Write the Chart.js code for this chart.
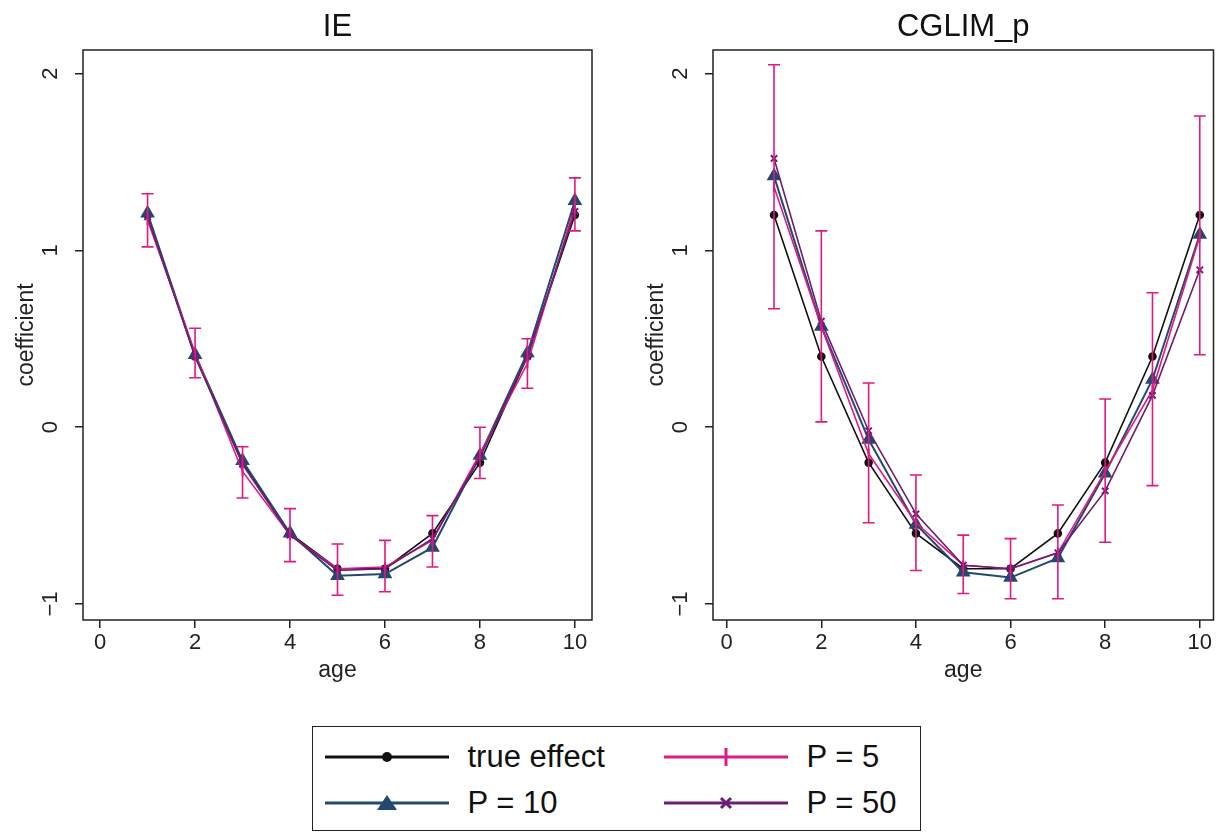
<!DOCTYPE html>
<html>
<head>
<meta charset="utf-8">
<script src="https://cdn.jsdelivr.net/npm/chart.js@4.4.1/dist/chart.umd.min.js"></script>
<style>
  body { margin: 0; background: #fff; width: 1222px; height: 832px; position: relative; overflow: hidden;
         font-family: "Liberation Sans", Arial, sans-serif; color: #111; }
  canvas { position: absolute; top: 0; }
  #c1 { left: 0; }
  #c2 { left: 630px; }
  #legend { position: absolute; left: 312px; top: 726px; width: 607px; height: 103px; border: 1.5px solid #222; }
  .sw { position: absolute; }
  .lab { position: absolute; font-size: 31px; line-height: 36px; height: 36px; white-space: nowrap; }
</style>
</head>
<body>
<canvas id="c1" width="611" height="700"></canvas>
<canvas id="c2" width="592" height="700"></canvas>

<div id="legend"></div>

<script>
// ages on the x axis
const ages = [1, 2, 3, 4, 5, 6, 7, 8, 9, 10];
const xTicks = [0, 2, 4, 6, 8, 10];
const yTicks = [-1, 0, 1, 2];
const yTickLabels = ['\u22121', '0', '1', '2'];

const trueEffect = [1.2, 0.4, -0.2, -0.6, -0.8, -0.8, -0.6, -0.2, 0.4, 1.2];

// IE panel
const ieP10 = [1.21, 0.41, -0.19, -0.60, -0.84, -0.83, -0.68, -0.16, 0.42, 1.28];
const ieP5 = [1.17, 0.42, -0.25, -0.61, -0.80, -0.79, -0.64, -0.15, 0.36, 1.25];
const ieP5Lo = [1.02, 0.28, -0.40, -0.76, -0.95, -0.93, -0.79, -0.29, 0.22, 1.11];
const ieP5Hi = [1.32, 0.56, -0.11, -0.46, -0.66, -0.64, -0.50, 0.00, 0.50, 1.41];
const ieP50 = [1.19, 0.40, -0.21, -0.61, -0.81, -0.80, -0.63, -0.17, 0.40, 1.22];

// CGLIM_p panel
const cgP10 = [1.42, 0.57, -0.07, -0.55, -0.82, -0.85, -0.74, -0.26, 0.27, 1.09];
const cgP5 = [1.36, 0.57, -0.15, -0.54, -0.78, -0.80, -0.71, -0.25, 0.21, 1.08];
const cgP5Lo = [0.67, 0.03, -0.54, -0.81, -0.94, -0.97, -0.97, -0.65, -0.33, 0.41];
const cgP5Hi = [2.05, 1.11, 0.25, -0.27, -0.61, -0.63, -0.44, 0.16, 0.76, 1.76];
const cgP50 = [1.52, 0.60, -0.02, -0.49, -0.78, -0.80, -0.71, -0.36, 0.18, 0.89];

const BLACK = '#111111';
const NAVY = '#22496f';
const PINK = '#e2197f';
const PURPLE = '#6c1d76';
const FONT = '"Liberation Sans", Arial, sans-serif';

function pts(vals) {
    return ages.map((a, i) => ({ x: a, y: vals[i] }));
}

function makeChart(id, title, xMin, xMax, padRight, p10, p5, p5Lo, p5Hi, p50) {
    const decor = {
        id: 'decor',
        afterDatasetsDraw(chart) {
            // error bars for P = 5
            const ctx = chart.ctx;
            const xs = chart.scales.x, ys = chart.scales.y;
            ctx.save();
            ctx.strokeStyle = PINK;
            ctx.lineWidth = 1.6;
            for (let i = 0; i < ages.length; i++) {
                const px = xs.getPixelForValue(ages[i]);
                const lo = ys.getPixelForValue(p5Lo[i]);
                const hi = ys.getPixelForValue(p5Hi[i]);
                ctx.beginPath();
                ctx.moveTo(px, lo); ctx.lineTo(px, hi);
                ctx.moveTo(px - 6, lo); ctx.lineTo(px + 6, lo);
                ctx.moveTo(px - 6, hi); ctx.lineTo(px + 6, hi);
                ctx.stroke();
            }
            ctx.restore();
        },
        afterDraw(chart) {
            const ctx = chart.ctx;
            const a = chart.chartArea;
            const ys = chart.scales.y;
            ctx.save();
            ctx.strokeStyle = '#222';
            ctx.lineWidth = 1.5;
            ctx.strokeRect(a.left, a.top, a.right - a.left, a.bottom - a.top);
            // rotated y tick labels
            ctx.fillStyle = '#222';
            ctx.font = '22px ' + FONT;
            ctx.textAlign = 'center';
            ctx.textBaseline = 'alphabetic';
            yTicks.forEach((v, i) => {
                ctx.save();
                ctx.translate(a.left - 26, ys.getPixelForValue(v));
                ctx.rotate(-Math.PI / 2);
                ctx.fillText(yTickLabels[i], 0, 0);
                ctx.restore();
            });
            // panel title
            ctx.fillStyle = '#111';
            ctx.font = '31px ' + FONT;
            ctx.fillText(title, (a.left + a.right) / 2, 36);
            ctx.restore();
        }
    };

    return new Chart(document.getElementById(id), {
        type: 'line',
        data: {
            datasets: [
                {
                    label: 'true effect', data: pts(trueEffect), order: 4,
                    borderColor: BLACK, backgroundColor: BLACK, borderWidth: 1.6,
                    pointStyle: 'circle', pointRadius: 3.5
                },
                {
                    label: 'P = 10', data: pts(p10), order: 3,
                    borderColor: NAVY, backgroundColor: NAVY, borderWidth: 2,
                    pointStyle: 'triangle', pointRadius: 6.5
                },
                {
                    label: 'P = 5', data: pts(p5), order: 2,
                    borderColor: PINK, backgroundColor: PINK, borderWidth: 1.6,
                    pointStyle: 'line', pointRotation: 90, pointRadius: 5, pointBorderWidth: 2
                },
                {
                    label: 'P = 50', data: pts(p50), order: 1,
                    borderColor: PURPLE, backgroundColor: PURPLE, borderWidth: 1.6,
                    pointStyle: 'crossRot', pointRadius: 4.5, pointBorderWidth: 2
                }
            ]
        },
        options: {
            responsive: false,
            animation: false,
            devicePixelRatio: 1,
            layout: { padding: { top: 50, right: padRight, left: 0, bottom: 0 } },
            plugins: { legend: { display: false }, tooltip: { enabled: false } },
            scales: {
                x: {
                    type: 'linear', min: xMin, max: xMax,
                    afterBuildTicks: s => { s.ticks = xTicks.map(v => ({ value: v })); },
                    afterFit: s => { s.height = 80; },
                    border: { display: false },
                    grid: { drawOnChartArea: false, drawTicks: true, tickLength: 8, color: '#222', lineWidth: 1.5 },
                    ticks: { color: '#222', font: { family: FONT, size: 22 }, padding: 2, maxRotation: 0 },
                    title: { display: true, text: 'age', color: '#222', font: { family: FONT, size: 23 }, padding: { top: 0, bottom: 16 } }
                },
                y: {
                    type: 'linear', min: -1.09, max: 2.133,
                    afterBuildTicks: s => { s.ticks = yTicks.map(v => ({ value: v })); },
                    afterFit: s => { s.width = 83; },
                    border: { display: false },
                    grid: { drawOnChartArea: false, drawTicks: true, tickLength: 8, color: '#222', lineWidth: 1.5 },
                    ticks: { color: 'rgba(0,0,0,0)', font: { family: FONT, size: 22 } },
                    title: { display: true, text: 'coefficient', color: '#222', font: { family: FONT, size: 23 }, padding: { top: 13, bottom: 0 } }
                }
            }
        },
        plugins: [decor]
    });
}

makeChart('c1', 'IE', -0.36, 10.36, 19, ieP10, ieP5, ieP5Lo, ieP5Hi, ieP50);
makeChart('c2', 'CGLIM_p', -0.29, 10.29, 3, cgP10, cgP5, cgP5Lo, cgP5Hi, cgP50);

// legend, two columns
const legendItems = [
    { text: 'true effect', color: BLACK, mark: 'dot', x: 325, y: 757 },
    { text: 'P = 5', color: PINK, mark: 'tick', x: 664, y: 757 },
    { text: 'P = 10', color: NAVY, mark: 'tri', x: 325, y: 803 },
    { text: 'P = 50', color: PURPLE, mark: 'x', x: 664, y: 803 }
];

function markSvg(mark, c) {
    if (mark === 'dot') return `<circle cx="62" cy="14" r="5" fill="${c}"/>`;
    if (mark === 'tri') return `<polygon points="52,21 72,21 62,6" fill="${c}"/>`;
    if (mark === 'tick') return `<line x1="62" y1="5" x2="62" y2="23" stroke="${c}" stroke-width="3"/>`;
    return `<path d="M57,9 L67,19 M67,9 L57,19" stroke="${c}" stroke-width="3"/>`;
}

let html = '';
legendItems.forEach(it => {
    html += `<svg class="sw" style="left:${it.x - 313.5}px;top:${it.y - 14 - 727.5}px" width="124" height="28">
      <line x1="0" y1="14" x2="124" y2="14" stroke="${it.color}" stroke-width="3"/>${markSvg(it.mark, it.color)}</svg>`;
    html += `<div class="lab" style="left:${it.x + 143 - 313.5}px;top:${it.y - 18 - 727.5}px">${it.text}</div>`;
});
document.getElementById('legend').innerHTML = html;
</script>
</body>
</html>
